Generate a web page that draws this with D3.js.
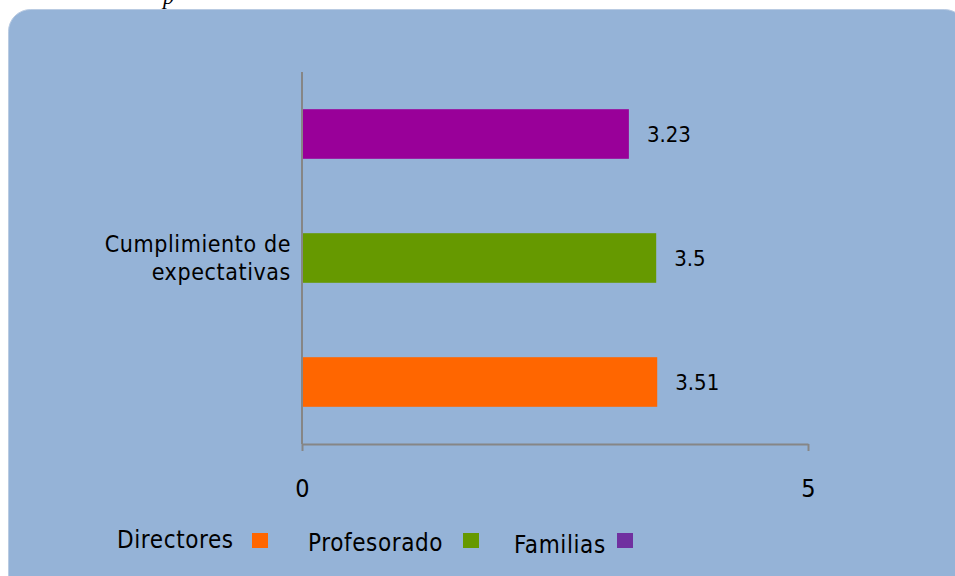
<!DOCTYPE html>
<html><head><meta charset="utf-8">
<script src="https://cdn.jsdelivr.net/npm/d3@7"></script>
<style>body{margin:0;background:#fff;}svg{display:block;}</style>
</head><body>
<svg id="c" width="955" height="576"></svg>
<script>
const category = "Cumplimiento de expectativas";
const series = ["Directores", "Profesorado", "Familias"];
const values = [3.51, 3.5, 3.23];
const barColors = ["#FF6600", "#669900", "#990099"];
const legendColors = ["#FF6600", "#669900", "#7030A0"];
const xTicks = [0, 5];

const svg = d3.select("#c");
const font = "'DejaVu Sans Condensed', 'DejaVu Sans', sans-serif";

svg.append("text").attr("x", 163).attr("y", 4)
  .attr("font-family", "'Liberation Serif', serif").attr("font-style", "italic")
  .attr("font-size", 22).text("p");

svg.append("rect").attr("x", 8.5).attr("y", 9.5).attr("width", 958).attr("height", 620)
  .attr("rx", 22).attr("fill", "#95B3D7").attr("stroke", "#b9cbe2").attr("stroke-width", 1);

const x = d3.scaleLinear().domain([0, 5]).range([302, 808]);
const y = d3.scaleBand().domain(["Familias", "Profesorado", "Directores"]).range([72, 444]).paddingInner(0.6).paddingOuter(0.3);

const g = svg.append("g");
series.forEach((s, i) => {
  g.append("rect").attr("x", x(0)).attr("y", y(s)).attr("width", x(values[i]) - x(0))
    .attr("height", y.bandwidth()).attr("fill", barColors[i]);
  g.append("text").attr("x", x(values[i]) + 18).attr("y", y(s) + y.bandwidth() / 2 + 8)
    .attr("font-family", font).attr("font-size", 22).attr("fill", "#000")
    .text(values[i]);
});

const xAxis = d3.axisBottom(x).tickValues(xTicks).tickSize(7).tickSizeOuter(0).tickPadding(33)
  .tickFormat(d3.format("d"));
const ax = svg.append("g").attr("transform", "translate(0,444)").call(xAxis);
ax.select(".domain").attr("stroke", "#868686").attr("stroke-width", 2);
ax.selectAll(".tick line").attr("stroke", "#868686").attr("stroke-width", 2);
ax.selectAll(".tick text").attr("font-family", font).attr("font-size", 25).attr("fill", "#000")
  .attr("dy", null).attr("y", 53);

svg.append("line").attr("x1", x(0)).attr("x2", x(0)).attr("y1", 72).attr("y2", 444)
  .attr("stroke", "#868686").attr("stroke-width", 2);

const catText = svg.append("text").attr("text-anchor", "end").attr("font-family", font)
  .attr("font-size", 23).attr("letter-spacing", 0.6).attr("fill", "#000");
catText.append("tspan").attr("x", 291).attr("y", 252).text("Cumplimiento de");
catText.append("tspan").attr("x", 291).attr("y", 280).text("expectativas");

const legX = [117, 308, 514];
const swX = [252, 463, 617];
const legY = [548, 551, 553];
series.forEach((s, i) => {
  svg.append("text").attr("x", legX[i]).attr("y", legY[i]).attr("font-family", font)
    .attr("font-size", 24).attr("letter-spacing", 0.6).attr("fill", "#000").text(s);
  svg.append("rect").attr("x", swX[i]).attr("y", 533).attr("width", 16).attr("height", 15)
    .attr("fill", legendColors[i]);
});
</script>
</body></html>
